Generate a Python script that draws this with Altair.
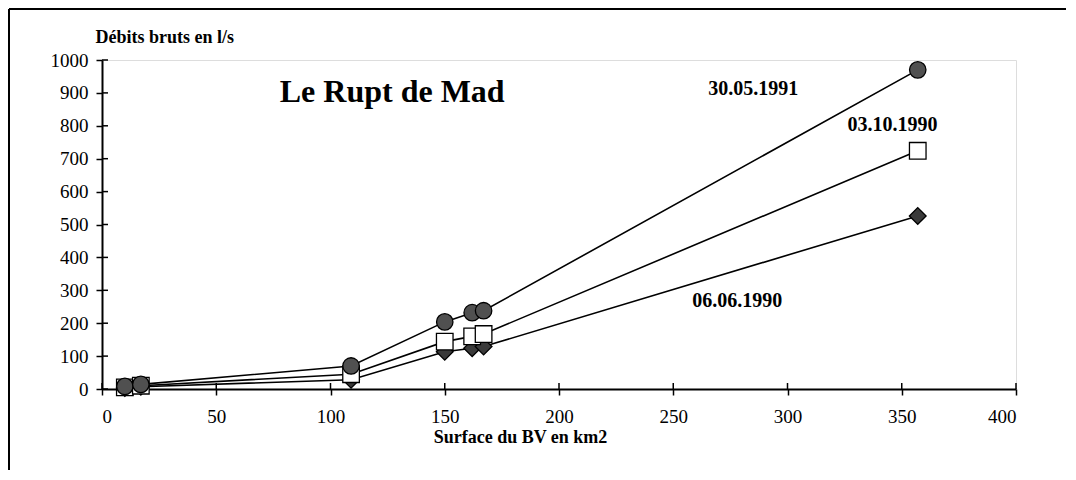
import altair as alt
import pandas as pd

# ---- data ----
surface = [10, 17, 109, 150, 162, 167, 357]
debit_300591 = [8, 14, 70, 204, 232, 238, 970]
debit_031090 = [5, 10, 45, 144, 160, 167, 724]
debit_060690 = [3, 7, 28, 113, 124, 129, 526]
series_names = ["06.06.1990", "03.10.1990", "30.05.1991"]

x_ticks = [0, 50, 100, 150, 200, 250, 300, 350, 400]
y_ticks = [0, 100, 200, 300, 400, 500, 600, 700, 800, 900, 1000]

label_texts = ["30.05.1991", "03.10.1990", "06.06.1990"]
label_x = [285, 346, 278]
label_y = [912, 802, 268]
title_text = "Le Rupt de Mad"
title_x = [127]
title_y = [903]

FONT = "Liberation Serif"
W, H = 914, 329

rows = []
for z, (name, vals) in enumerate(zip(series_names, [debit_060690, debit_031090, debit_300591])):
    for s, v in zip(surface, vals):
        rows.append({"serie": name, "surface": s, "debit": v, "z": z})
df = pd.DataFrame(rows)

xs = alt.Scale(domain=[0, 400], nice=False)
ys = alt.Scale(domain=[0, 1000], nice=False)

x_axis = alt.Axis(values=x_ticks, format="d", grid=False, labelFont=FONT, labelFontSize=19,
                  labelPadding=12, tickSize=6, tickWidth=1.5, tickColor="black",
                  domainColor="black", domainWidth=2, labelColor="black", labelOverlap=False,
                  title="Surface du BV en km2", titleFont=FONT, titleFontSize=18,
                  titleFontWeight="bold", titleColor="black", titleX=418, titleY=48,
                  titleBaseline="middle")
y_axis = alt.Axis(values=y_ticks, format="d", grid=False, labelFont=FONT, labelFontSize=19,
                  labelPadding=8, tickSize=6, tickWidth=1.5, tickColor="black",
                  domainColor="black", domainWidth=2, labelColor="black", labelOverlap=False,
                  title="Débits bruts en l/s", titleFont=FONT, titleFontSize=18,
                  titleFontWeight="bold", titleColor="black", titleAngle=0,
                  titleAlign="left", titleX=-7, titleY=-23, titleBaseline="middle")


def X(f):
    return alt.X(f, scale=xs, axis=x_axis)


def Y(f):
    return alt.Y(f, scale=ys, axis=y_axis)


base = alt.Chart(df)

lines = base.mark_line(color="black", strokeWidth=1.6).encode(
    x=X("surface:Q"), y=Y("debit:Q"), detail="serie:N",
)

points = base.mark_point(filled=True, stroke="black", strokeWidth=1.3, opacity=1).encode(
    x=X("surface:Q"), y=Y("debit:Q"),
    shape=alt.Shape("serie:N", scale=alt.Scale(domain=series_names,
                    range=["diamond", "square", "circle"]), legend=None),
    fill=alt.Fill("serie:N", scale=alt.Scale(domain=series_names,
                  range=["#3a3a3a", "white", "#505050"]), legend=None),
    size=alt.Size("serie:N", scale=alt.Scale(domain=series_names,
                  range=[280, 270, 210]), legend=None),
    order=alt.Order("z:Q", sort="ascending"),
)

lab_df = pd.DataFrame({"t": label_texts, "x": label_x, "y": label_y})
labels = alt.Chart(lab_df).mark_text(font=FONT, fontSize=20, fontWeight="bold",
                                     color="black").encode(
    x=X("x:Q"), y=Y("y:Q"), text="t:N")

tdf = pd.DataFrame({"t": [title_text], "x": title_x, "y": title_y})
title = alt.Chart(tdf).mark_text(font=FONT, fontSize=32, fontWeight="bold",
                                 color="black").encode(
    x=X("x:Q"), y=Y("y:Q"), text="t:N")

# inner half of the crossing ticks
ytk = alt.Chart(pd.DataFrame({"v": y_ticks})).mark_rule(color="black", strokeWidth=1.5).encode(
    y=Y("v:Q"), x=alt.value(0), x2=alt.value(6))
xtk = alt.Chart(pd.DataFrame({"v": x_ticks})).mark_rule(color="black", strokeWidth=1.5).encode(
    x=X("v:Q"), y=alt.value(H), y2=alt.value(H - 6))

# frame (top and left borders of the scanned figure)
frame_top = alt.Chart(pd.DataFrame({"a": [0]})).mark_rule(color="black", strokeWidth=2).encode(
    x=alt.value(-93), x2=alt.value(964), y=alt.value(-51))
frame_left = alt.Chart(pd.DataFrame({"a": [0]})).mark_rule(color="black", strokeWidth=2).encode(
    x=alt.value(-93), y=alt.value(-51), y2=alt.value(410))

chart = alt.layer(lines, ytk, xtk, points, labels, title, frame_top, frame_left).properties(
    width=W, height=H, padding=0
).configure_view(stroke=None).configure(background="white")

chart.save("out.html", embed_options={"renderer": "svg", "actions": False})
